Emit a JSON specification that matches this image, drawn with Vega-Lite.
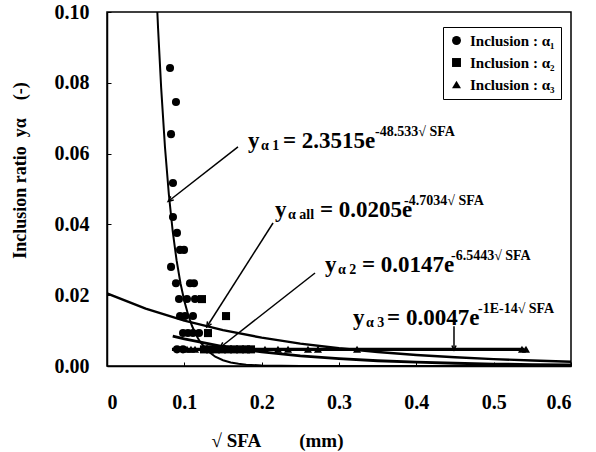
{
  "$schema": "https://vega.github.io/schema/vega-lite/v6.json",
  "width": 464,
  "height": 354,
  "autosize": {"type": "none"},
  "padding": {"left": 107, "top": 12, "right": 25, "bottom": 86},
  "background": "white",
  "config": {
    "view": {"stroke": "black", "strokeWidth": 1.5},
    "font": "Liberation Serif",
    "axis": {
      "grid": false,
      "labelFont": "Liberation Serif",
      "labelFontWeight": "bold",
      "labelFontSize": 20,
      "labelColor": "black",
      "titleFont": "Liberation Serif",
      "titleFontWeight": "bold",
      "titleFontSize": 19,
      "titleColor": "black",
      "domainColor": "black",
      "domainWidth": 1.5,
      "tickColor": "black",
      "tickSize": -4
    },
    "legend": {
      "labelFont": "Liberation Serif",
      "labelFontWeight": "bold",
      "labelFontSize": 15,
      "labelColor": "black"
    }
  },
  "datasets": {
    "points": [
      {"x": 0.0815, "y": 0.0842, "series": "Inclusion : α₁"},
      {"x": 0.0892, "y": 0.0746, "series": "Inclusion : α₁"},
      {"x": 0.0828, "y": 0.0655, "series": "Inclusion : α₁"},
      {"x": 0.0853, "y": 0.0517, "series": "Inclusion : α₁"},
      {"x": 0.0853, "y": 0.0421, "series": "Inclusion : α₁"},
      {"x": 0.0905, "y": 0.0376, "series": "Inclusion : α₁"},
      {"x": 0.0944, "y": 0.0328, "series": "Inclusion : α₁"},
      {"x": 0.0996, "y": 0.0328, "series": "Inclusion : α₁"},
      {"x": 0.0828, "y": 0.0280, "series": "Inclusion : α₁"},
      {"x": 0.0892, "y": 0.0234, "series": "Inclusion : α₁"},
      {"x": 0.1073, "y": 0.0234, "series": "Inclusion : α₁"},
      {"x": 0.1125, "y": 0.0234, "series": "Inclusion : α₁"},
      {"x": 0.0931, "y": 0.0189, "series": "Inclusion : α₁"},
      {"x": 0.1034, "y": 0.0189, "series": "Inclusion : α₁"},
      {"x": 0.1138, "y": 0.0189, "series": "Inclusion : α₁"},
      {"x": 0.0944, "y": 0.0141, "series": "Inclusion : α₁"},
      {"x": 0.1009, "y": 0.0141, "series": "Inclusion : α₁"},
      {"x": 0.1112, "y": 0.0141, "series": "Inclusion : α₁"},
      {"x": 0.0983, "y": 0.0093, "series": "Inclusion : α₁"},
      {"x": 0.1047, "y": 0.0093, "series": "Inclusion : α₁"},
      {"x": 0.1112, "y": 0.0093, "series": "Inclusion : α₁"},
      {"x": 0.1190, "y": 0.0093, "series": "Inclusion : α₁"},
      {"x": 0.0905, "y": 0.0047, "series": "Inclusion : α₁"},
      {"x": 0.0983, "y": 0.0047, "series": "Inclusion : α₁"},
      {"x": 0.1228, "y": 0.0189, "series": "Inclusion : α₂"},
      {"x": 0.1539, "y": 0.0141, "series": "Inclusion : α₂"},
      {"x": 0.1306, "y": 0.0093, "series": "Inclusion : α₂"},
      {"x": 0.1254, "y": 0.0047, "series": "Inclusion : α₂"},
      {"x": 0.1332, "y": 0.0047, "series": "Inclusion : α₂"},
      {"x": 0.1409, "y": 0.0047, "series": "Inclusion : α₂"},
      {"x": 0.1487, "y": 0.0047, "series": "Inclusion : α₂"},
      {"x": 0.1565, "y": 0.0047, "series": "Inclusion : α₂"},
      {"x": 0.1642, "y": 0.0047, "series": "Inclusion : α₂"},
      {"x": 0.1720, "y": 0.0047, "series": "Inclusion : α₂"},
      {"x": 0.1797, "y": 0.0047, "series": "Inclusion : α₂"},
      {"x": 0.1862, "y": 0.0047, "series": "Inclusion : α₂"},
      {"x": 0.1035, "y": 0.0047, "series": "Inclusion : α₃"},
      {"x": 0.1086, "y": 0.0047, "series": "Inclusion : α₃"},
      {"x": 0.1138, "y": 0.0047, "series": "Inclusion : α₃"},
      {"x": 0.2043, "y": 0.0047, "series": "Inclusion : α₃"},
      {"x": 0.2211, "y": 0.0047, "series": "Inclusion : α₃"},
      {"x": 0.2341, "y": 0.0047, "series": "Inclusion : α₃"},
      {"x": 0.2599, "y": 0.0047, "series": "Inclusion : α₃"},
      {"x": 0.2728, "y": 0.0047, "series": "Inclusion : α₃"},
      {"x": 0.3233, "y": 0.0047, "series": "Inclusion : α₃"},
      {"x": 0.5366, "y": 0.0047, "series": "Inclusion : α₃"},
      {"x": 0.5418, "y": 0.0047, "series": "Inclusion : α₃"}
    ],
    "curves": [
      {"curve": "a1", "x": 0.064, "y": 0.1053},
      {"curve": "a1", "x": 0.066, "y": 0.09554},
      {"curve": "a1", "x": 0.07, "y": 0.0787},
      {"curve": "a1", "x": 0.075, "y": 0.06173},
      {"curve": "a1", "x": 0.08, "y": 0.04844},
      {"curve": "a1", "x": 0.085, "y": 0.038},
      {"curve": "a1", "x": 0.09, "y": 0.02981},
      {"curve": "a1", "x": 0.095, "y": 0.02339},
      {"curve": "a1", "x": 0.1, "y": 0.01835},
      {"curve": "a1", "x": 0.105, "y": 0.0144},
      {"curve": "a1", "x": 0.11, "y": 0.01129},
      {"curve": "a1", "x": 0.115, "y": 0.00886},
      {"curve": "a1", "x": 0.12, "y": 0.006951},
      {"curve": "a1", "x": 0.13, "y": 0.004278},
      {"curve": "a1", "x": 0.14, "y": 0.002633},
      {"curve": "a1", "x": 0.15, "y": 0.00162},
      {"curve": "a1", "x": 0.16, "y": 0.000997},
      {"curve": "a1", "x": 0.17, "y": 0.000614},
      {"curve": "a1", "x": 0.18, "y": 0.000378},
      {"curve": "a1", "x": 0.2, "y": 0.000143},
      {"curve": "a1", "x": 0.25, "y": 0.0000126},
      {"curve": "a1", "x": 0.3, "y": 0.000001},
      {"curve": "a1", "x": 0.6, "y": 0},
      {"curve": "all", "x": 0, "y": 0.0205},
      {"curve": "all", "x": 0.05, "y": 0.0162},
      {"curve": "all", "x": 0.1, "y": 0.01281},
      {"curve": "all", "x": 0.15, "y": 0.01012},
      {"curve": "all", "x": 0.2, "y": 0.008003},
      {"curve": "all", "x": 0.25, "y": 0.006326},
      {"curve": "all", "x": 0.3, "y": 0.005},
      {"curve": "all", "x": 0.35, "y": 0.003952},
      {"curve": "all", "x": 0.4, "y": 0.003124},
      {"curve": "all", "x": 0.45, "y": 0.00247},
      {"curve": "all", "x": 0.5, "y": 0.001952},
      {"curve": "all", "x": 0.55, "y": 0.001543},
      {"curve": "all", "x": 0.6, "y": 0.00122},
      {"curve": "a2", "x": 0.085, "y": 0.008428},
      {"curve": "a2", "x": 0.1, "y": 0.007641},
      {"curve": "a2", "x": 0.15, "y": 0.005508},
      {"curve": "a2", "x": 0.2, "y": 0.003971},
      {"curve": "a2", "x": 0.25, "y": 0.002862},
      {"curve": "a2", "x": 0.3, "y": 0.002064},
      {"curve": "a2", "x": 0.35, "y": 0.001488},
      {"curve": "a2", "x": 0.4, "y": 0.001073},
      {"curve": "a2", "x": 0.45, "y": 0.000773},
      {"curve": "a2", "x": 0.5, "y": 0.000557},
      {"curve": "a2", "x": 0.55, "y": 0.000402},
      {"curve": "a2", "x": 0.6, "y": 0.00029},
      {"curve": "a3", "x": 0.084, "y": 0.0047},
      {"curve": "a3", "x": 0.54, "y": 0.0047}
    ],
    "labels": [
      {"part": "main", "text": "y", "x": 0.1823, "y": 0.0616},
      {"part": "sub", "text": "α 1", "x": 0.1991, "y": 0.0610},
      {"part": "main", "text": "= 2.3515e", "x": 0.2276, "y": 0.0616},
      {"part": "sup", "text": "-48.533√ SFA", "x": 0.3466, "y": 0.0650},
      {"part": "main", "text": "y", "x": 0.2172, "y": 0.0421},
      {"part": "sub", "text": "α all", "x": 0.2341, "y": 0.0415},
      {"part": "main", "text": "= 0.0205e", "x": 0.2754, "y": 0.0421},
      {"part": "sup", "text": "-4.7034√ SFA", "x": 0.3841, "y": 0.0456},
      {"part": "main", "text": "y", "x": 0.2819, "y": 0.02655},
      {"part": "sub", "text": "α 2", "x": 0.2987, "y": 0.0260},
      {"part": "main", "text": "= 0.0147e", "x": 0.3297, "y": 0.02655},
      {"part": "sup", "text": "-6.5443√ SFA", "x": 0.4448, "y": 0.0300},
      {"part": "main", "text": "y", "x": 0.3181, "y": 0.01158},
      {"part": "sub", "text": "α 3", "x": 0.3349, "y": 0.0110},
      {"part": "main", "text": "= 0.0047e", "x": 0.3621, "y": 0.01158},
      {"part": "sup", "text": "-1E-14√ SFA", "x": 0.4797, "y": 0.0150}
    ],
    "arrows": [
      {"id": "a1", "x": 0.1694, "y": 0.0619, "x2": 0.0815, "y2": 0.0469},
      {"id": "all", "x": 0.2147, "y": 0.0404, "x2": 0.1306, "y2": 0.01158},
      {"id": "a2", "x": 0.269, "y": 0.02627, "x2": 0.1487, "y2": 0.00565},
      {"id": "a3", "x": 0.4487, "y": 0.0112, "x2": 0.4487, "y2": 0.0051}
    ]
  },
  "layer": [
    {
      "data": {"name": "curves"},
      "mark": {"type": "line", "color": "black", "clip": true},
      "encoding": {
        "x": {"field": "x", "type": "quantitative", "scale": {"domain": [0, 0.6], "nice": false},
              "axis": {"values": [0, 0.1, 0.2, 0.3, 0.4, 0.5, 0.6], "format": "~g", "labelPadding": 30, "title": "√ SFA\u00a0\u00a0\u00a0\u00a0\u00a0\u00a0\u00a0\u00a0(mm)", "titleX": 170, "titleY": 80, "titleBaseline": "alphabetic"}},
        "y": {"field": "y", "type": "quantitative", "scale": {"domain": [0, 0.1], "nice": false},
              "axis": {"values": [0, 0.02, 0.04, 0.06, 0.08, 0.1], "format": ".2f", "labelPadding": 22, "title": "Inclusion ratio\u00a0\u00a0yα\u00a0\u00a0\u00a0\u00a0(-)", "titleX": -78, "titleY": 158, "titleFontSize": 18}},
        "detail": {"field": "curve"},
        "strokeWidth": {"field": "curve", "type": "nominal", "scale": {"domain": ["a1", "all", "a2", "a3"], "range": [2, 3.2, 1.5, 2.2]}, "legend": null}
      }
    },
    {
      "data": {"name": "points"},
      "mark": {"type": "point", "filled": true, "opacity": 1, "color": "black", "size": 65},
      "encoding": {
        "x": {"field": "x", "type": "quantitative"},
        "y": {"field": "y", "type": "quantitative"},
        "shape": {"field": "series", "type": "nominal",
                  "scale": {"domain": ["Inclusion : α₁", "Inclusion : α₂", "Inclusion : α₃"], "range": ["circle", "square", "triangle-up"]},
                  "legend": {"title": null, "orient": "none", "legendX": 336, "legendY": 15, "strokeColor": "black", "padding": 6, "rowPadding": 6, "symbolFillColor": "black", "symbolStrokeColor": "black", "symbolSize": 80, "labelOffset": 6}}
      }
    },
    {
      "data": {"name": "arrows"},
      "mark": {"type": "rule", "color": "black", "strokeWidth": 1.5},
      "encoding": {
        "x": {"field": "x", "type": "quantitative"},
        "y": {"field": "y", "type": "quantitative"},
        "x2": {"field": "x2"},
        "y2": {"field": "y2"}
      }
    },
    {
      "data": {"name": "arrows"},
      "transform": [{"filter": "datum.id == 'a1'"}],
      "mark": {"type": "point", "shape": "M -0.5 0.6 L 0 -0.5 L 0.5 0.6", "filled": false, "color": "black", "strokeWidth": 1.5, "size": 90, "angle": 232, "opacity": 1},
      "encoding": {"x": {"field": "x2", "type": "quantitative"}, "y": {"field": "y2", "type": "quantitative"}}
    },
    {
      "data": {"name": "arrows"},
      "transform": [{"filter": "datum.id == 'all'"}],
      "mark": {"type": "point", "shape": "M -0.5 0.6 L 0 -0.5 L 0.5 0.6", "filled": false, "color": "black", "strokeWidth": 1.5, "size": 90, "angle": 212, "opacity": 1},
      "encoding": {"x": {"field": "x2", "type": "quantitative"}, "y": {"field": "y2", "type": "quantitative"}}
    },
    {
      "data": {"name": "arrows"},
      "transform": [{"filter": "datum.id == 'a2'"}],
      "mark": {"type": "point", "shape": "M -0.5 0.6 L 0 -0.5 L 0.5 0.6", "filled": false, "color": "black", "strokeWidth": 1.5, "size": 90, "angle": 232, "opacity": 1},
      "encoding": {"x": {"field": "x2", "type": "quantitative"}, "y": {"field": "y2", "type": "quantitative"}}
    },
    {
      "data": {"name": "arrows"},
      "transform": [{"filter": "datum.id == 'a3'"}],
      "mark": {"type": "point", "shape": "M -0.5 0.6 L 0 -0.5 L 0.5 0.6", "filled": false, "color": "black", "strokeWidth": 1.5, "size": 70, "angle": 180, "opacity": 1},
      "encoding": {"x": {"field": "x2", "type": "quantitative"}, "y": {"field": "y2", "type": "quantitative"}}
    },
    {
      "data": {"name": "labels"},
      "transform": [{"filter": "datum.part == 'main'"}],
      "mark": {"type": "text", "align": "left", "baseline": "alphabetic", "font": "Liberation Serif", "fontWeight": "bold", "fontSize": 23, "color": "black"},
      "encoding": {"x": {"field": "x", "type": "quantitative"}, "y": {"field": "y", "type": "quantitative"}, "text": {"field": "text"}}
    },
    {
      "data": {"name": "labels"},
      "transform": [{"filter": "datum.part == 'sub'"}],
      "mark": {"type": "text", "align": "left", "baseline": "alphabetic", "font": "Liberation Serif", "fontWeight": "bold", "fontSize": 14, "color": "black"},
      "encoding": {"x": {"field": "x", "type": "quantitative"}, "y": {"field": "y", "type": "quantitative"}, "text": {"field": "text"}}
    },
    {
      "data": {"name": "labels"},
      "transform": [{"filter": "datum.part == 'sup'"}],
      "mark": {"type": "text", "align": "left", "baseline": "alphabetic", "font": "Liberation Serif", "fontWeight": "bold", "fontSize": 14, "color": "black"},
      "encoding": {"x": {"field": "x", "type": "quantitative"}, "y": {"field": "y", "type": "quantitative"}, "text": {"field": "text"}}
    }
  ]
}
